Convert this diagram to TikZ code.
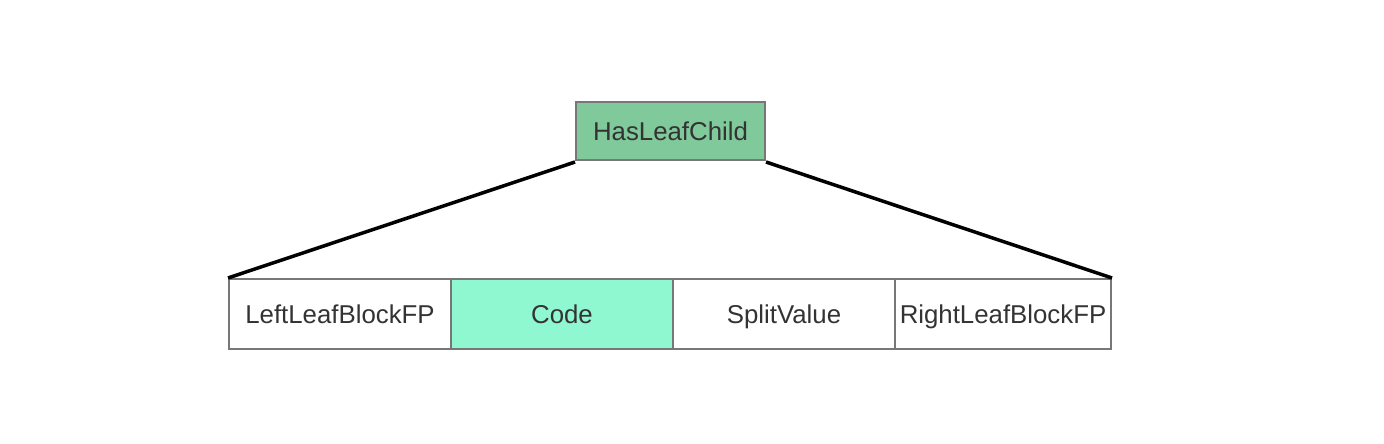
\documentclass[tikz,border=0pt]{standalone}
\usepackage{fontspec}
\setmainfont{Liberation Sans}
\definecolor{txt}{HTML}{333333}
\definecolor{bord}{HTML}{777777}
\definecolor{topfill}{HTML}{7FC99B}
\definecolor{codefill}{HTML}{90F8D0}
\begin{document}
\begin{tikzpicture}[x=1pt,y=-1pt,
  cell/.style={draw=bord,line width=2pt,inner sep=0pt,minimum height=70pt,text=txt,
    font=\fontsize{25.8}{30}\selectfont,text height=22pt,text depth=3pt},
  conn/.style={line width=3.5pt,black}]
\useasboundingbox (0,0) rectangle (1384,444);
\node[cell,fill=topfill,minimum width=189pt,minimum height=58pt] (top) at (670.5,131) {HasLeafChild};
\node[cell,fill=white,minimum width=222pt] (c1) at (340,314) {LeftLeafBlockFP};
\node[cell,fill=codefill,minimum width=222pt] (c2) at (562,314) {Code};
\node[cell,fill=white,minimum width=222pt] (c3) at (784,314) {SplitValue};
\node[cell,fill=white,minimum width=216pt] (c4) at (1003,314) {RightLeafBlockFP};
\draw[conn] ([yshift=-1pt]top.south west) -- (c1.north west);
\draw[conn] ([yshift=-1pt]top.south east) -- (c4.north east);
\end{tikzpicture}
\end{document}
